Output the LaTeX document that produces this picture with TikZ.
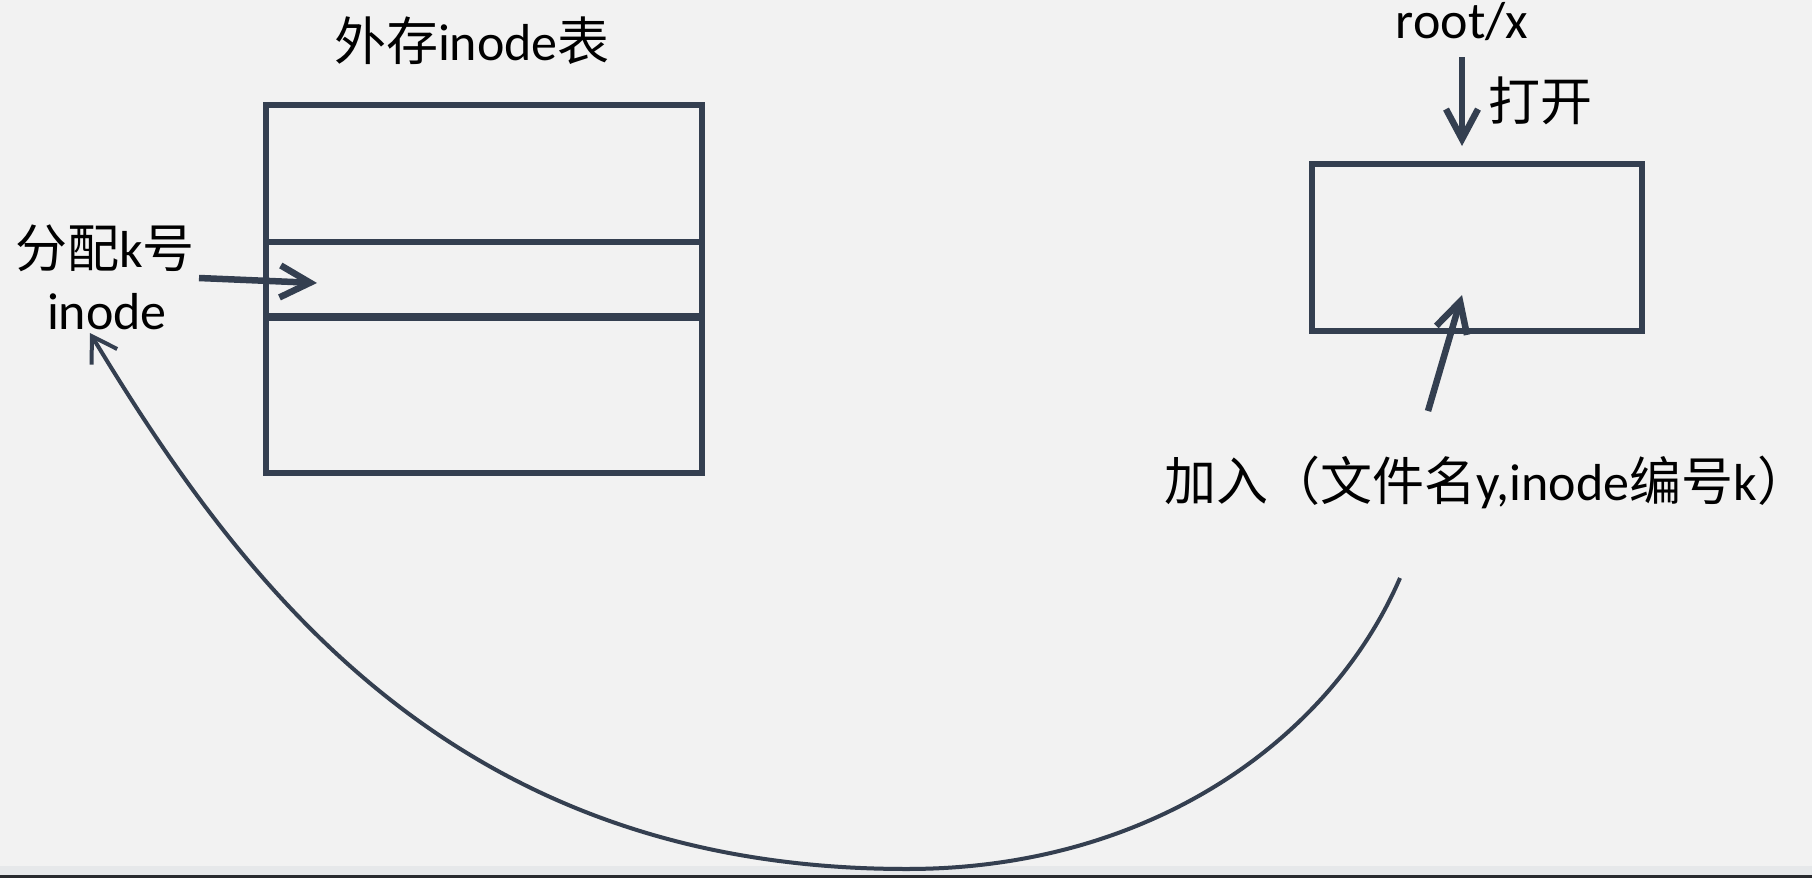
\documentclass[tikz,border=0pt]{standalone}
\usepackage{fontspec}
\setmainfont{Carlito}
\newfontfamily\cjk{Noto Sans CJK SC}
\usetikzlibrary{arrows.meta}
\definecolor{bg}{RGB}{242,242,242}
\definecolor{ln}{RGB}{52,63,80}
\definecolor{band}{RGB}{230,232,234}
\definecolor{barc}{RGB}{40,42,46}
\begin{document}
\begin{tikzpicture}[x=1pt,y=-1pt,
  lbl/.style={inner sep=0pt,anchor=base,text=black,font=\fontsize{52}{62}\selectfont},
  boxed/.style={draw=ln,line width=5.5pt,rectangle,inner sep=0pt},
  thickarrow/.style={draw=ln,line width=6.5pt,-{Straight Barb[length=30pt,width=32pt,line width=6.5pt]}},
  thinarrow/.style={draw=ln,line width=4pt,-{Straight Barb[length=24pt,width=30pt,line width=4pt]}}]
\fill[bg] (0,0) rectangle (1812,878);
\useasboundingbox (0,0) rectangle (1812,878);
\fill[band] (0,866) rectangle (1812,875);
\fill[barc] (0,875) rectangle (1812,878);

% left: table
\node[lbl] (title) at (472,60) {{\cjk 外存}inode{\cjk 表}};
\node[boxed,minimum width=436pt,minimum height=368pt] (tbl) at (484,289) {};
\draw[ln,line width=5.5pt] (tbl.west |- 0,242) -- (tbl.east |- 0,242);
\draw[ln,line width=8pt] (tbl.west |- 0,317) -- (tbl.east |- 0,317);
\node[lbl] (alloc) at (105,267) {{\cjk 分配}k{\cjk 号}};
\node[lbl] (ino) at (107,329) {inode};
\coordinate (allocout) at (199,278);
\coordinate (slot) at (317,283);
\draw[thickarrow] (allocout) -- (slot);

% right: directory box
\node[lbl] (root) at (1462,38) {root/x};
\node[lbl] (open) at (1540,120) {{\cjk 打开}};
\node[boxed,minimum width=330pt,minimum height=167pt] (dir) at (1477,247.5) {};
\coordinate (rootout) at (1462,57);
\coordinate (dirtop) at (1462,146);
\draw[thickarrow] (rootout) -- (dirtop);
\node[lbl] (add) at (1487,500) {{\cjk 加入（文件名}y,inode{\cjk 编号}k{\cjk ）}};
\coordinate (addup) at (1428,411);
\coordinate (dirin) at (1462,295);
\draw[thickarrow] (addup) -- (dirin);

% return curve
\coordinate (addout) at (1400,578);
\coordinate (inoin) at (90,333);
\draw[thinarrow] (addout) .. controls (1330,740) and (1150,869) .. (907,869)
  .. controls (457,869) and (246,591) .. (inoin);
\end{tikzpicture}
\end{document}
